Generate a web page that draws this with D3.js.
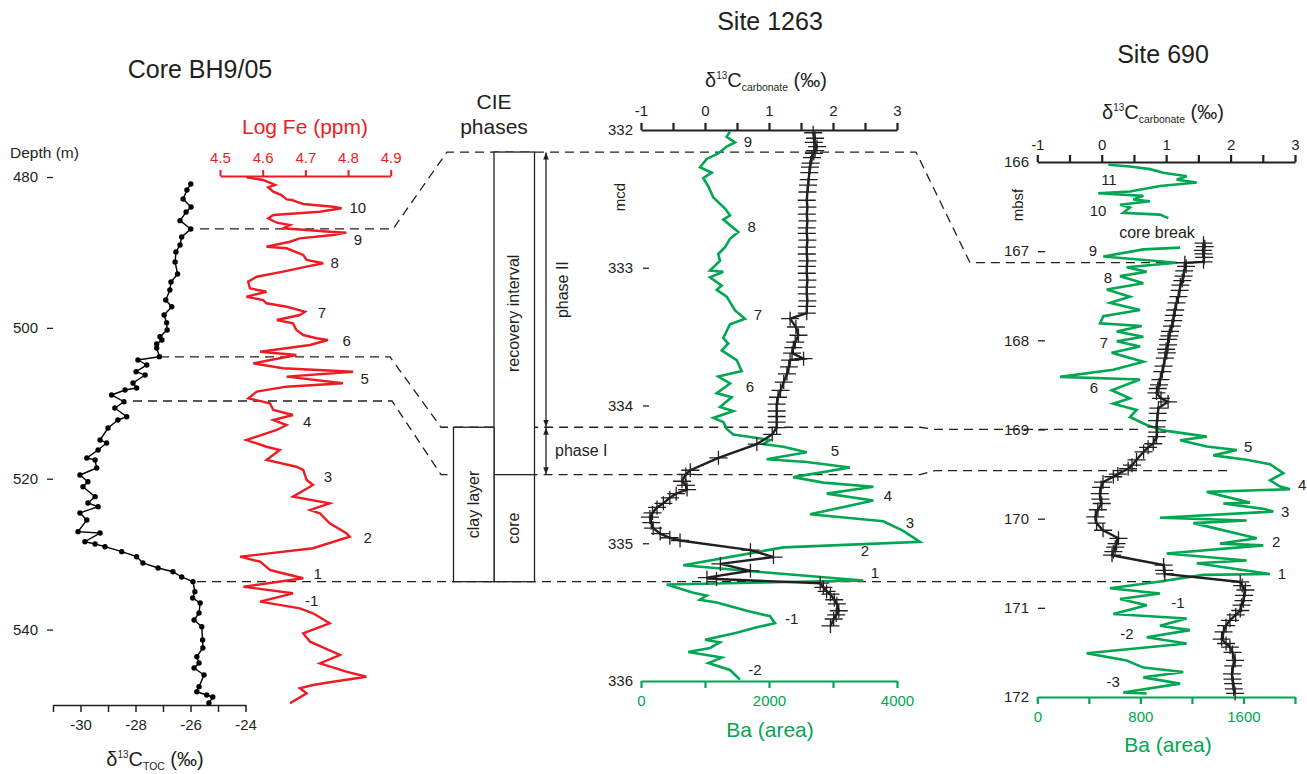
<!DOCTYPE html>
<html>
<head>
<meta charset="utf-8">
<script src="https://cdn.jsdelivr.net/npm/d3@7"></script>
<style>
  html, body { margin: 0; padding: 0; background: #fff; }
  svg { display: block; }
</style>
</head>
<body>
<svg id="chart" width="1307" height="774"></svg>
<script>
// ---------- Core BH9/05 ----------
const tocDepth = [480.93,481.72,482.92,483.98,484.64,485.79,486.89,487.95,489.01,489.94,491.27,492.86,493.92,494.98,496.31,497.20,498.30,499.32,500.28,501.17,501.61,502.14,502.67,503.82,504.26,504.92,505.81,506.25,507.31,507.97,508.24,508.90,509.79,510.62,511.78,512.22,513.28,514.87,515.26,516.19,517.25,517.52,518.58,519.51,520.40,521.06,522.38,523.22,523.71,524.54,525.47,527.02,527.20,528.35,528.65,529.01,529.67,530.34,531.17,531.84,532.33,533.03,533.65,534.98,535.81,536.48,537.80,538.73,539.62,541.38,542.44,543.60,544.43,545.09,546.02,547.57,548.24,548.67,548.94,549.74];
const tocValue = [-25.99,-26.13,-26.27,-25.98,-26.16,-26.38,-25.99,-26.32,-26.38,-26.53,-26.56,-26.47,-26.71,-26.75,-26.90,-26.68,-26.96,-26.87,-26.85,-27.11,-27.04,-27.23,-27.23,-27.13,-27.91,-27.59,-27.98,-27.65,-28.09,-27.96,-28.38,-28.87,-28.42,-28.75,-28.32,-28.64,-29.00,-29.29,-29.05,-29.36,-29.77,-29.47,-29.41,-30.02,-29.73,-29.91,-29.47,-29.73,-29.36,-30.02,-29.77,-30.09,-29.29,-29.84,-29.47,-29.11,-28.50,-27.96,-27.73,-27.18,-26.64,-26.32,-25.91,-25.84,-25.92,-25.65,-25.69,-25.87,-25.59,-25.56,-25.55,-25.77,-25.69,-25.87,-25.51,-25.69,-25.77,-25.41,-25.19,-25.33];

const feDepth = [480.04,480.40,481.06,481.37,481.95,482.39,482.96,483.05,483.27,483.58,483.94,484.15,484.60,485.04,485.48,486.06,486.36,486.80,487.25,487.38,487.69,488.13,488.58,489.24,489.45,490.34,491.00,491.44,491.89,492.55,493.22,493.88,494.76,495.21,495.87,496.31,496.74,497.20,497.86,498.30,498.96,499.40,500.28,500.95,501.38,501.61,502.27,503.16,503.60,504.70,505.36,505.81,506.47,507.35,507.80,508.46,509.34,510.00,510.89,511.55,512.22,512.88,513.54,514.87,515.76,516.19,517.52,518.41,518.84,520.17,520.83,522.38,523.26,524.15,524.58,525.91,527.24,527.69,529.22,530.34,531.00,532.10,532.33,533.20,534.32,535.19,536.30,537.18,537.84,539.17,540.49,541.61,543.37,544.47,545.58,546.25,546.91,547.35,547.79,548.45,549.77];
const feValue = [4.562,4.601,4.629,4.613,4.625,4.644,4.656,4.668,4.679,4.695,4.765,4.785,4.734,4.625,4.613,4.633,4.664,4.648,4.757,4.796,4.765,4.687,4.664,4.609,4.656,4.695,4.703,4.742,4.703,4.648,4.586,4.566,4.570,4.609,4.562,4.601,4.609,4.656,4.699,4.687,4.633,4.671,4.679,4.695,4.726,4.753,4.711,4.594,4.679,4.578,4.648,4.812,4.656,4.788,4.656,4.586,4.566,4.617,4.625,4.671,4.625,4.656,4.633,4.562,4.609,4.640,4.609,4.679,4.695,4.703,4.718,4.671,4.757,4.711,4.734,4.757,4.796,4.804,4.718,4.547,4.594,4.617,4.633,4.695,4.555,4.671,4.594,4.687,4.718,4.757,4.695,4.711,4.781,4.734,4.796,4.843,4.765,4.718,4.687,4.703,4.664];

const tocTicks = [-31,-30,-29,-28,-27,-26,-25,-24];
const tocLabels = [-30,-28,-26,-24];
const feTicks = [4.5,4.6,4.7,4.8,4.9];
const depthTicksBH = [480,500,520,540];
const feMarkText = ["10","9","8","7","6","5","4","3","2","1","-1"];
const feMarkDepth = [483.98,488.35,491.40,497.90,501.74,506.78,512.48,519.77,527.73,532.50,536.08];
const feMarkValue = [4.823,4.823,4.769,4.739,4.797,4.839,4.704,4.753,4.846,4.729,4.715];

// ---------- Site 1263 ----------
const c1263Depth = [332.02,332.06,332.09,332.12,332.15,332.17,332.20,332.24,332.27,332.31,332.36,332.40,332.45,332.51,332.56,332.61,332.66,332.71,332.75,332.80,332.85,332.90,332.95,332.99,333.04,333.09,333.14,333.19,333.24,333.28,333.33,333.37,333.43,333.49,333.54,333.58,333.62,333.66,333.67,333.72,333.77,333.83,333.89,333.94,333.99,334.04,334.08,334.12,334.16,334.21,334.28,334.38,334.47,334.50,334.55,334.58,334.61,334.64,334.67,334.71,334.74,334.78,334.81,334.85,334.89,334.93,334.96,334.98,335.05,335.10,335.15,335.20,335.25,335.26,335.29,335.32,335.35,335.37,335.41,335.44,335.49,335.52,335.55,335.60];
const c1263Value = [1.69,1.72,1.70,1.75,1.72,1.70,1.67,1.65,1.64,1.63,1.62,1.61,1.60,1.59,1.60,1.59,1.60,1.59,1.59,1.60,1.59,1.59,1.60,1.59,1.59,1.60,1.59,1.59,1.60,1.59,1.59,1.33,1.42,1.46,1.41,1.38,1.36,1.54,1.33,1.31,1.28,1.23,1.18,1.14,1.12,1.12,1.12,1.12,1.12,1.05,0.81,0.21,-0.23,-0.30,-0.36,-0.30,-0.28,-0.45,-0.55,-0.65,-0.75,-0.82,-0.86,-0.84,-0.81,-0.70,-0.55,-0.39,0.71,1.07,0.24,0.71,0.03,0.18,1.80,1.85,1.90,1.96,2.02,2.06,2.09,2.05,2.01,1.96];

const ba1263Depth = [332.01,332.05,332.09,332.12,332.17,332.21,332.27,332.31,332.35,332.41,332.49,332.57,332.62,332.65,332.74,332.79,332.85,332.90,332.95,333.02,333.03,333.07,333.13,333.16,333.21,333.31,333.37,333.41,333.51,333.55,333.60,333.67,333.75,333.79,333.84,333.91,333.94,334.01,334.04,334.09,334.12,334.17,334.21,334.25,334.28,334.30,334.34,334.39,334.41,334.45,334.52,334.56,334.59,334.64,334.69,334.79,334.84,334.91,334.99,335.03,335.16,335.21,335.27,335.30,335.36,335.38,335.41,335.43,335.49,335.53,335.58,335.61,335.65,335.70,335.72,335.76,335.79,335.83,335.87,335.92,335.99];
const ba1263Value = [1391,1339,1469,1339,1208,1027,922,1105,973,1052,1130,1313,1391,1286,1520,1391,1313,1208,1234,1078,1286,1078,1261,1183,1339,1469,1625,1391,1286,1364,1261,1495,1573,1208,1391,1183,1417,1234,1442,1130,1286,1339,1442,2016,1911,2223,2589,1964,2589,3266,2380,2848,3630,2902,3630,2641,3786,4098,4359,2223,661,1911,3473,402,817,1027,922,1183,1652,2016,2094,1808,1495,1000,1234,1078,739,1261,1052,1391,1547];

const carbTicks1263 = [-1,-0.5,0,0.5,1,1.5,2,2.5,3];
const baTicks1263 = [0,1000,2000,3000,4000];
const baLabels1263 = [0,2000,4000];
const depthTicks1263 = [332,333,334,335,336];
const ba1263MarkText = ["9","8","7","6","5","4","3","2","1","-1","-2"];
const ba1263MarkDepth = [332.085,332.70,333.34,333.86,334.33,334.65,334.85,335.05,335.21,335.545,335.92];
const ba1263MarkValue = [1672,1730,1828,1703,3031,3859,4203,3500,3656,2355,1781];

// ---------- Site 690 ----------
const c690Depth = [166.91,166.95,166.99,167.03,167.07,167.12,167.13,167.17,167.22,167.28,167.33,167.38,167.44,167.51,167.58,167.66,167.72,167.78,167.84,167.90,167.95,167.99,168.05,168.10,168.14,168.20,168.29,168.35,168.44,168.50,168.54,168.59,168.65,168.69,168.76,168.82,168.90,168.97,169.03,169.08,169.16,169.20,169.25,169.34,169.40,169.44,169.50,169.53,169.59,169.65,169.72,169.78,169.83,169.90,169.98,170.05,170.13,170.22,170.28,170.32,170.37,170.41,170.52,170.58,170.62,170.71,170.75,170.80,170.86,170.92,170.97,171.03,171.08,171.14,171.20,171.27,171.35,171.40,171.44,171.50,171.59,171.65,171.74,171.80,171.85,171.91,171.96];
const c690Value = [1.58,1.60,1.57,1.58,1.59,1.58,1.29,1.31,1.28,1.27,1.25,1.22,1.21,1.19,1.16,1.14,1.12,1.11,1.09,1.06,1.05,1.03,1.03,1.00,1.01,0.98,0.96,0.94,0.91,0.89,0.87,0.85,0.92,1.03,0.88,0.87,0.86,0.85,0.86,0.85,0.80,0.72,0.65,0.54,0.47,0.41,0.25,0.18,0.02,-0.01,-0.03,-0.02,0.00,-0.06,-0.10,-0.08,0.02,0.26,0.23,0.21,0.18,0.16,0.96,0.97,0.98,2.15,2.18,2.23,2.21,2.20,2.17,2.15,2.08,1.99,1.93,1.89,1.86,1.93,1.99,2.03,2.07,2.04,2.02,2.03,2.04,2.05,2.07];

// null marks the core break between the two recovered sections
const ba690Depth = [166.03,166.05,166.08,166.12,166.16,166.20,166.23,166.27,166.33,166.35,166.38,166.42,166.44,166.48,166.51,166.57,166.59,166.63,null,166.96,166.98,167.06,167.13,167.18,167.23,167.28,167.36,167.43,167.51,167.58,167.66,167.73,167.81,167.84,167.90,167.96,168.01,168.07,168.14,168.24,168.33,168.41,168.44,168.56,168.65,168.71,168.78,168.86,168.95,169.01,169.08,169.12,169.19,169.23,169.29,169.34,169.39,169.49,169.57,169.64,169.67,169.70,169.82,169.83,169.89,169.92,169.99,170.02,170.05,170.22,170.28,170.30,170.39,170.47,170.50,170.62,170.63,170.71,170.78,170.84,170.90,170.97,171.07,171.12,171.20,171.25,171.33,171.40,171.51,171.59,171.67,171.72,171.78,171.85,171.95,171.96];
const ba690Value = [551,719,875,978,1159,1082,1237,952,719,473,823,745,875,642,719,667,952,1017,null,1108,823,512,1082,694,849,642,823,539,719,564,797,512,487,810,616,823,616,797,577,823,590,176,797,577,719,590,771,719,849,978,1315,1108,1315,1548,1366,1625,1806,1909,1806,1884,1961,1315,1651,1444,1754,1832,952,1625,1211,1703,1418,1754,1004,1625,1237,1806,1288,927,564,952,642,849,590,1159,952,1185,849,1159,383,694,823,1133,823,1108,667,849];

const carbTicks690 = [-1,-0.5,0,0.5,1,1.5,2,2.5,3];
const baTicks690 = [0,400,800,1200,1600,2000];
const baLabels690 = [0,800,1600];
const depthTicks690 = [166,167,168,169,170,171,172];
const ba690MarkText = ["11","10","9","8","7","6","5","4","3","2","1","-1","-2","-3"];
const ba690MarkDepth = [166.20,166.54,166.99,167.29,168.02,168.53,169.19,169.62,169.92,170.26,170.61,170.94,171.29,171.83];
const ba690MarkValue = [556,471,432,549,518,440,1636,2055,1923,1853,1899,1092,696,588];

// ---------- Correlation tie levels (depth in each section) ----------
const tieBH = [486.89,503.86,509.70,533.65];
const tie1263 = [332.16,334.158,334.502,335.279];
const tie690 = [167.129,168.998,169.462,170.707];

// ---------- drawing ----------
const FONT = "'Liberation Sans', Arial, Helvetica, sans-serif";
const INK = "#231f20", RED = "#ed1c24", GREEN = "#00a651";
const svg = d3.select("#chart").style("font-family", FONT);

const yBH = d3.scaleLinear().domain([480, 550]).range([177, 705]);
const xToc = d3.scaleLinear().domain([-31, -24]).range([53, 245.5]);
const xFe = d3.scaleLinear().domain([4.5, 4.9]).range([220, 390.7]);

const y1263 = d3.scaleLinear().domain([332, 336]).range([130, 681]);
const xC1263 = d3.scaleLinear().domain([-1, 3]).range([641, 897]);
const xBa1263 = d3.scaleLinear().domain([0, 4000]).range([641, 897]);

const y690 = d3.scaleLinear().domain([166, 172]).range([162, 697]);
const xC690 = d3.scaleLinear().domain([-1, 3]).range([1037.3, 1295]);
const xBa690 = d3.scaleLinear().domain([0, 2000]).range([1037.3, 1295]);

function styleAxis(g, color, fontSize, width) {
  g.selectAll("path.domain").attr("stroke", color).attr("stroke-width", width);
  g.selectAll(".tick line").attr("stroke", color).attr("stroke-width", width);
  g.selectAll(".tick text").attr("fill", color).attr("font-size", fontSize).attr("font-family", FONT);
}
function fmtOnly(list) { return d => list.includes(d) ? String(d) : ""; }

function isoTitle(x, y, sub, size) {
  const t = svg.append("text").attr("x", x).attr("y", y).attr("text-anchor", "middle")
    .attr("fill", INK).attr("font-size", size);
  t.append("tspan").text("δ");
  t.append("tspan").attr("font-size", size * 0.5).attr("dy", -size * 0.42).text("13");
  t.append("tspan").attr("dy", size * 0.42).text("C");
  t.append("tspan").attr("font-size", size * 0.52).attr("dy", size * 0.22).text(sub);
  t.append("tspan").attr("dy", -size * 0.22).text(" (‰)");
}
function text(x, y, s, opts = {}) {
  const t = svg.append("text").attr("x", x).attr("y", y).text(s)
    .attr("fill", opts.color || INK).attr("font-size", opts.size || 15)
    .attr("text-anchor", opts.anchor || "start");
  if (opts.rotate) t.attr("transform", `rotate(-90,${x},${y})`);
  if (opts.baseline) t.attr("dominant-baseline", opts.baseline);
  return t;
}

// tie lines (dashed) across the three sections
const tieBreaks = [
  { x0: 200, x1: 393, x2: 447, x3: 916, x4: 970, x5: 1170 },
  { x0: 160, x1: 390, x2: 441, x3: 920, x4: 935, x5: 1143 },
  { x0: 133, x1: 392, x2: 441, x3: 920, x4: 935, x5: 1230 },
  { x0: 197, x1: 392, x2: 441, x3: 920, x4: 935, x5: 1165 }
];
tieBreaks.forEach((b, i) => {
  const yl = yBH(tieBH[i]), ym = y1263(tie1263[i]), yr = y690(tie690[i]);
  svg.append("path")
    .attr("d", d3.line()([[b.x0, yl], [b.x1, yl], [b.x2, ym], [b.x3, ym], [b.x4, yr], [b.x5, yr]]))
    .attr("fill", "none").attr("stroke", INK).attr("stroke-width", 1.3)
    .attr("stroke-dasharray", "9,6");
});

// ---- Core BH9/05 ----
text(200, 78, "Core BH9/05", { size: 25, anchor: "middle" });
text(10, 158, "Depth (m)", { size: 15.5 });

svg.append("g").attr("transform", "translate(53,0)")
  .call(d3.axisLeft(yBH).tickValues(depthTicksBH).tickSize(6).tickPadding(9).tickFormat(d3.format("d")))
  .call(g => g.select(".domain").remove())
  .call(g => styleAxis(g, INK, 15, 1.3));

svg.append("g").attr("transform", "translate(0,705)")
  .call(d3.axisBottom(xToc).tickValues(tocTicks).tickSize(7).tickSizeOuter(0).tickPadding(7)
    .tickFormat(fmtOnly(tocLabels)))
  .call(g => styleAxis(g, INK, 15, 1.5));
isoTitle(155, 766, "TOC", 20);

svg.append("g").attr("transform", "translate(0,176)")
  .call(d3.axisTop(xFe).tickValues(feTicks).tickSize(6).tickSizeOuter(0).tickPadding(7)
    .tickFormat(d3.format(".1f")))
  .call(g => styleAxis(g, RED, 15, 2));
text(305, 134, "Log Fe (ppm)", { size: 21, anchor: "middle", color: RED });

const feLine = d3.line().x((d, i) => xFe(feValue[i])).y((d, i) => yBH(feDepth[i]));
svg.append("path").attr("d", feLine(feDepth)).attr("fill", "none")
  .attr("stroke", RED).attr("stroke-width", 2.4).attr("stroke-linejoin", "miter");

const tocLine = d3.line().x((d, i) => xToc(tocValue[i])).y((d, i) => yBH(tocDepth[i]));
svg.append("path").attr("d", tocLine(tocDepth)).attr("fill", "none")
  .attr("stroke", "#000").attr("stroke-width", 1.4);
svg.append("g").selectAll("circle").data(tocDepth).join("circle")
  .attr("cx", (d, i) => xToc(tocValue[i])).attr("cy", d => yBH(d)).attr("r", 2.7).attr("fill", "#000");

feMarkText.forEach((s, i) => text(xFe(feMarkValue[i]), yBH(feMarkDepth[i]), s,
  { size: 15, anchor: "middle", baseline: "central" }));

// ---- CIE phases ----
text(494, 109, "CIE", { size: 21, anchor: "middle" });
text(494, 134, "phases", { size: 21, anchor: "middle" });
function box(x0, x1, d0, d1) {
  svg.append("rect").attr("x", x0).attr("y", y1263(d0)).attr("width", x1 - x0)
    .attr("height", y1263(d1) - y1263(d0)).attr("fill", "#fff")
    .attr("stroke", INK).attr("stroke-width", 1.3);
}
box(494, 534.5, tie1263[0], tie1263[2]);
box(494, 534.5, tie1263[2], tie1263[3]);
box(453.5, 494, tie1263[1], tie1263[3]);
const midRec = (y1263(tie1263[0]) + y1263(tie1263[2])) / 2;
text(514, midRec, "recovery interval", { size: 16, anchor: "middle", rotate: true, baseline: "central" });
const midClay = (y1263(tie1263[1]) + y1263(tie1263[3])) / 2;
text(473.5, midClay, "clay layer", { size: 16, anchor: "middle", rotate: true, baseline: "central" });
const midCore = (y1263(tie1263[2]) + y1263(tie1263[3])) / 2;
text(514, midCore, "core", { size: 16, anchor: "middle", rotate: true, baseline: "central" });

svg.append("defs").append("marker").attr("id", "ah").attr("viewBox", "0 0 10 10")
  .attr("refX", 10).attr("refY", 5).attr("markerWidth", 7).attr("markerHeight", 7)
  .attr("markerUnits", "userSpaceOnUse").attr("orient", "auto-start-reverse")
  .append("path").attr("d", "M0,1 L10,5 L0,9 Z").attr("fill", INK);
function dblArrow(x, d0, d1) {
  svg.append("line").attr("x1", x).attr("x2", x).attr("y1", y1263(d0) + 0.5).attr("y2", y1263(d1) - 0.5)
    .attr("stroke", INK).attr("stroke-width", 1.3)
    .attr("marker-start", "url(#ah)").attr("marker-end", "url(#ah)");
}
dblArrow(546, tie1263[0], tie1263[1]);
dblArrow(546, tie1263[1], tie1263[2]);
text(563, (y1263(tie1263[0]) + y1263(tie1263[1])) / 2, "phase II",
  { size: 16, anchor: "middle", rotate: true, baseline: "central" });
text(555, (y1263(tie1263[1]) + y1263(tie1263[2])) / 2, "phase I", { size: 16, baseline: "central" });

// ---- Site 1263 ----
text(770, 30, "Site 1263", { size: 25, anchor: "middle" });
isoTitle(766, 87, "carbonate", 20);
svg.append("g").attr("transform", "translate(0,130)")
  .call(d3.axisTop(xC1263).tickValues(carbTicks1263).tickSize(7).tickSizeOuter(0).tickPadding(7)
    .tickFormat(fmtOnly([-1, 0, 1, 2, 3])))
  .call(g => styleAxis(g, INK, 15, 2.2));
svg.append("g").attr("transform", "translate(0,681)")
  .call(d3.axisBottom(xBa1263).tickValues(baTicks1263).tickSize(7).tickSizeOuter(0).tickPadding(7)
    .tickFormat(fmtOnly(baLabels1263)))
  .call(g => styleAxis(g, GREEN, 15, 2.2));
text(770, 737, "Ba (area)", { size: 21, anchor: "middle", color: GREEN });
svg.append("g").attr("transform", "translate(649,0)")
  .call(d3.axisLeft(y1263).tickValues(depthTicks1263).tickSize(6).tickPadding(10).tickFormat(d3.format("d")))
  .call(g => g.select(".domain").remove())
  .call(g => styleAxis(g, INK, 15, 1.3))
  .call(g => g.selectAll(".tick line").filter(d => d === 332 || d === 336).remove());
text(619, 197, "mcd", { size: 15, anchor: "middle", rotate: true, baseline: "central" });

const ba1263Line = d3.line().x((d, i) => xBa1263(ba1263Value[i])).y((d, i) => y1263(ba1263Depth[i]));
svg.append("path").attr("d", ba1263Line(ba1263Depth)).attr("fill", "none")
  .attr("stroke", GREEN).attr("stroke-width", 2.6);

const c1263Line = d3.line().x((d, i) => xC1263(c1263Value[i])).y((d, i) => y1263(c1263Depth[i]));
svg.append("path").attr("d", c1263Line(c1263Depth)).attr("fill", "none")
  .attr("stroke", INK).attr("stroke-width", 2.4);
svg.append("g").selectAll("path").data(c1263Depth).join("path")
  .attr("transform", (d, i) => `translate(${xC1263(c1263Value[i])},${y1263(d)})`)
  .attr("d", "M-9,0H9M0,-7V7").attr("stroke", INK).attr("stroke-width", 1.3);

ba1263MarkText.forEach((s, i) => text(xBa1263(ba1263MarkValue[i]), y1263(ba1263MarkDepth[i]), s,
  { size: 15, anchor: "middle", baseline: "central" }));

// ---- Site 690 ----
text(1163, 63, "Site 690", { size: 25, anchor: "middle" });
isoTitle(1163, 119, "carbonate", 20);
svg.append("g").attr("transform", "translate(0,162)")
  .call(d3.axisTop(xC690).tickValues(carbTicks690).tickSize(7).tickSizeOuter(0).tickPadding(5)
    .tickFormat(fmtOnly([-1, 0, 1, 2, 3])))
  .call(g => styleAxis(g, INK, 15, 2.2));
svg.append("g").attr("transform", "translate(0,697)")
  .call(d3.axisBottom(xBa690).tickValues(baTicks690).tickSize(7).tickSizeOuter(0).tickPadding(7)
    .tickFormat(fmtOnly(baLabels690)))
  .call(g => styleAxis(g, GREEN, 15, 2.2));
text(1168, 752, "Ba (area)", { size: 21, anchor: "middle", color: GREEN });
svg.append("g").attr("transform", "translate(1045,0)")
  .call(d3.axisLeft(y690).tickValues(depthTicks690).tickSize(7).tickPadding(9).tickFormat(d3.format("d")))
  .call(g => g.select(".domain").remove())
  .call(g => styleAxis(g, INK, 15, 1.3))
  .call(g => g.selectAll(".tick line").filter(d => d === 166 || d === 172).remove());
text(1017, 205, "mbsf", { size: 15, anchor: "middle", rotate: true, baseline: "central" });
text(1157, 232, "core break", { size: 16, anchor: "middle", baseline: "central" });

const ba690Line = d3.line().defined((d, i) => d !== null && ba690Value[i] !== null)
  .x((d, i) => xBa690(ba690Value[i])).y((d, i) => y690(ba690Depth[i]));
svg.append("path").attr("d", ba690Line(ba690Depth)).attr("fill", "none")
  .attr("stroke", GREEN).attr("stroke-width", 2.6);

const c690Line = d3.line().x((d, i) => xC690(c690Value[i])).y((d, i) => y690(c690Depth[i]));
svg.append("path").attr("d", c690Line(c690Depth)).attr("fill", "none")
  .attr("stroke", INK).attr("stroke-width", 2.4);
svg.append("g").selectAll("path").data(c690Depth).join("path")
  .attr("transform", (d, i) => `translate(${xC690(c690Value[i])},${y690(d)})`)
  .attr("d", "M-9,0H9M0,-7V7").attr("stroke", INK).attr("stroke-width", 1.3);

ba690MarkText.forEach((s, i) => text(xBa690(ba690MarkValue[i]), y690(ba690MarkDepth[i]), s,
  { size: 15, anchor: "middle", baseline: "central" }));
</script>
</body>
</html>
